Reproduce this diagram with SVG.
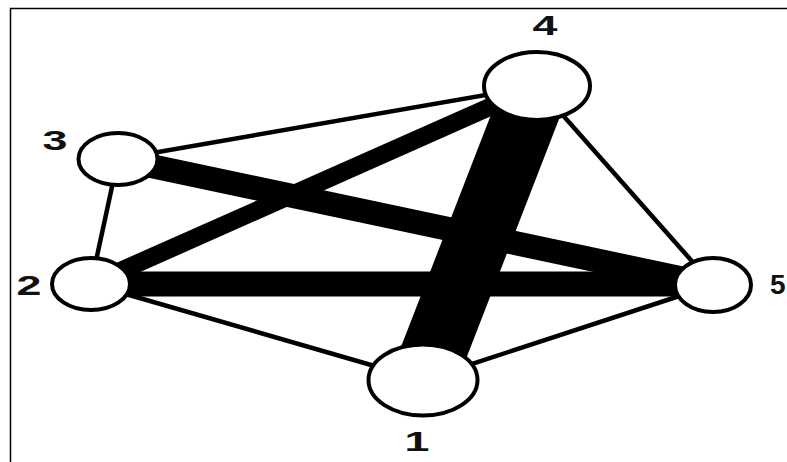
<svg xmlns="http://www.w3.org/2000/svg" width="787" height="462" viewBox="0 0 787 462">
<style>
.edge{stroke:#000;fill:none;stroke-linecap:butt}
.node{fill:#fff;stroke:#000;stroke-width:4}
.lbl{font-family:"Liberation Sans",Arial,sans-serif;font-size:28px;font-weight:bold;fill:#111}
</style>
<rect width="787" height="462" fill="#fff"/>
<path d="M10.5,462 V8.5 H787" fill="none" stroke="#000" stroke-width="1.5"/>
<g id="connectors">
<line class="edge" x1="118" y1="159" x2="537" y2="86" stroke-width="4.5"/>
<line class="edge" x1="118" y1="159" x2="91" y2="284" stroke-width="4.5"/>
<line class="edge" x1="91" y1="284" x2="423" y2="380" stroke-width="4.5"/>
<line class="edge" x1="423" y1="380" x2="713" y2="285" stroke-width="4.5"/>
<line class="edge" x1="537" y1="86" x2="713" y2="285" stroke-width="4.5"/>
<line class="edge" x1="91" y1="284" x2="537" y2="86" stroke-width="18"/>
<line class="edge" x1="118" y1="159" x2="713" y2="285" stroke-width="24"/>
<line class="edge" x1="91" y1="284" x2="713" y2="284" stroke-width="25"/>
<line class="edge" x1="537" y1="86" x2="423" y2="380" stroke-width="65"/>
</g>
<g id="node1"><ellipse class="node" cx="423" cy="380" rx="54.5" ry="35.5"/><text class="lbl" text-anchor="middle" transform="translate(417,451) scale(1.6,1)">1</text></g>
<g id="node2"><ellipse class="node" cx="91" cy="284" rx="39" ry="26"/><text class="lbl" text-anchor="middle" transform="translate(29,295) scale(1.6,1)">2</text></g>
<g id="node3"><ellipse class="node" cx="118" cy="159" rx="39.5" ry="26"/><text class="lbl" text-anchor="middle" transform="translate(55,150) scale(1.6,1)">3</text></g>
<g id="node4"><ellipse class="node" cx="537" cy="86" rx="53" ry="34"/><text class="lbl" text-anchor="middle" transform="translate(545,35) scale(1.6,1)">4</text></g>
<g id="node5"><ellipse class="node" cx="713" cy="285" rx="38" ry="27"/><text class="lbl" text-anchor="start" transform="translate(770,294) scale(1.0,1)">5</text></g>
</svg>
